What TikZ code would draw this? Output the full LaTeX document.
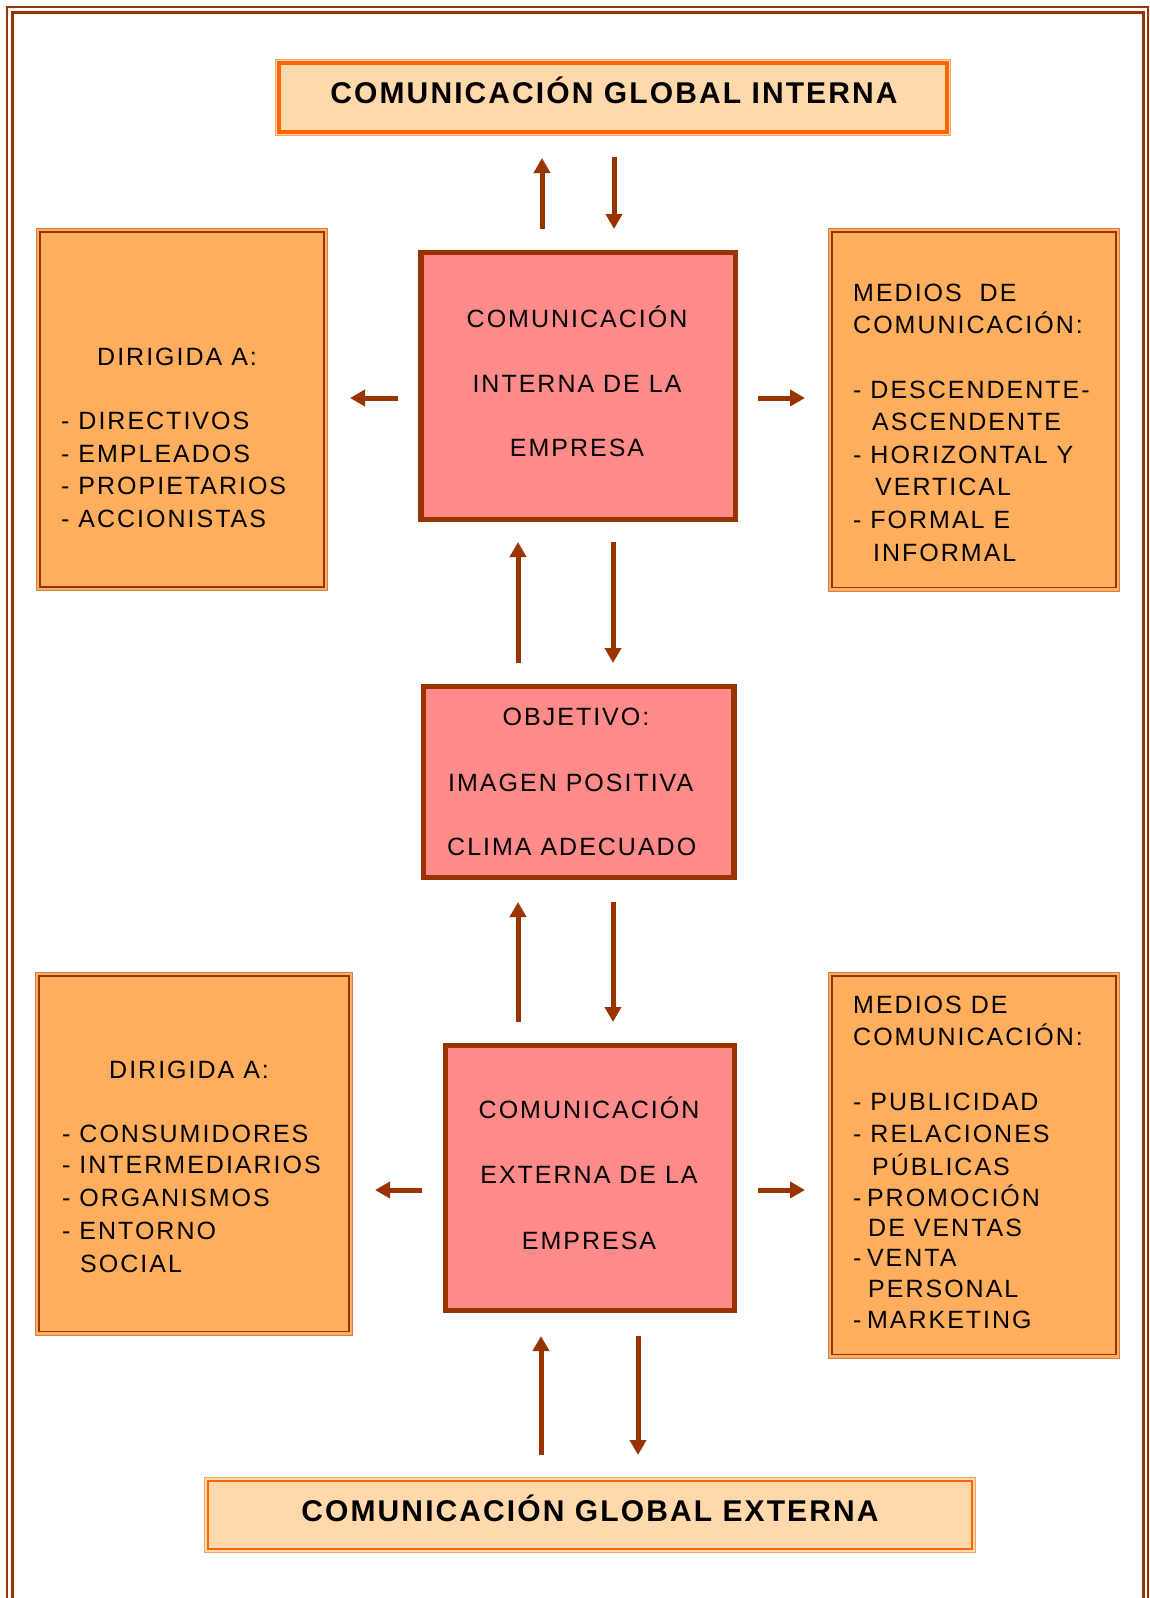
\documentclass[tikz,border=0pt]{standalone}
\usepackage{fontspec}
\setmainfont{Liberation Sans}
\newfontfamily\bodyfont[LetterSpace=8]{Liberation Sans}
\newfontfamily\headfont[LetterSpace=7]{Liberation Sans Bold}
\usetikzlibrary{arrows.meta}

\definecolor{rust}{RGB}{153,51,0}
\definecolor{ltrust}{RGB}{214,125,80}
\definecolor{orangefill}{RGB}{255,174,94}
\definecolor{pinkfill}{RGB}{255,138,138}
\definecolor{peachfill}{RGB}{255,216,172}
\definecolor{hotorange}{RGB}{255,102,0}
\definecolor{ltorange}{RGB}{255,160,100}

% inner border line of a box, inset by #2
\newcommand\innerline[3]{%
  \draw[#3] ([shift={(#2,-#2)}]#1.north west) rectangle ([shift={(-#2,#2)}]#1.south east);}

\tikzset{
  listbox/.style={rectangle, inner sep=0pt, fill=orangefill, draw=ltrust, line width=1pt},
  pinkbox/.style={rectangle, inner sep=0pt, fill=pinkfill, draw=rust, line width=5pt},
  titlebox/.style={rectangle, inner sep=0pt, fill=peachfill, draw=ltorange, line width=1.5pt},
  txt/.style={inner sep=0pt, anchor=base west, font=\bodyfont\fontsize{25}{29}\selectfont},
  ctxt/.style={txt, anchor=base},
  ttl/.style={inner sep=0pt, anchor=base, font=\headfont\fontsize{30}{34}\selectfont},
  arr/.style={draw=rust, line width=5pt, -{Triangle[width=16pt,length=15pt]}},
  frameline/.style={draw=rust, line cap=butt}
}

\begin{document}
\begin{tikzpicture}[x=1pt,y=-1pt]
\useasboundingbox (0,0) rectangle (1149,1598);

% page frame, open at the bottom
\draw[frameline, line width=2pt] (7,1598) -- (7,7) -- (1148,7) -- (1148,1598);
\draw[frameline, line width=3pt] (12.5,1598) -- (12.5,12.5) -- (1143.5,12.5) -- (1143.5,1598);

% title boxes
\node[titlebox, minimum width=675pt, minimum height=76pt] (gi) at (613,97.5) {};
\innerline{gi}{4.2pt}{hotorange, line width=3.5pt}
\node[titlebox, minimum width=771pt, minimum height=75pt] (ge) at (590,1515) {};
\innerline{ge}{4.2pt}{hotorange, line width=2pt}
\node[ttl] (gitext) at (614,103.5) {COMUNICACIÓN GLOBAL INTERNA};
\node[ttl] (getext) at (590,1521) {COMUNICACIÓN GLOBAL EXTERNA};

% central boxes
\node[pinkbox, minimum width=314.7pt, minimum height=266.7pt] (ci) at (578.2,385.8) {};
\innerline{ci}{4.4pt}{rust, line width=1.5pt}
\node[pinkbox, minimum width=311pt, minimum height=191pt] (obj) at (578.5,782) {};
\innerline{obj}{4.4pt}{rust, line width=1.5pt}
\node[pinkbox, minimum width=289.5pt, minimum height=265pt] (ce) at (589.8,1178) {};
\innerline{ce}{4.4pt}{rust, line width=1.5pt}

% side boxes
\node[listbox, minimum width=291pt, minimum height=362pt] (li) at (182,409.5) {};
\innerline{li}{4pt}{rust, line width=1.8pt}
\node[listbox, minimum width=291pt, minimum height=362.5pt] (ri) at (974,409.75) {};
\innerline{ri}{4pt}{rust, line width=1.8pt}
\node[listbox, minimum width=317pt, minimum height=362.5pt] (le) at (194,1153.75) {};
\innerline{le}{4pt}{rust, line width=1.8pt}
\node[listbox, minimum width=291pt, minimum height=385.5pt] (re) at (974,1165.25) {};
\innerline{re}{4pt}{rust, line width=1.8pt}

% texts of the central boxes
\node[ctxt] (ci1) at (577,327.3) {COMUNICACIÓN};
\node[ctxt] (ci2) at (577,392.3) {INTERNA DE LA};
\node[ctxt] (ci3) at (577,456.7) {EMPRESA};
\node[ctxt] (obj1) at (576,725.7) {OBJETIVO:};
\node[txt] (obj2) at (448,791) {IMAGEN POSITIVA};
\node[txt] (obj3) at (447,855.7) {CLIMA ADECUADO};
\node[ctxt] (ce1) at (589,1118.5) {COMUNICACIÓN};
\node[ctxt] (ce2) at (589,1183.5) {EXTERNA DE LA};
\node[ctxt] (ce3) at (589,1249.5) {EMPRESA};

% internal audience
\node[txt] (li1) at (97,365.6) {DIRIGIDA A:};
\node[txt] (li2) at (61,429.6) {- DIRECTIVOS};
\node[txt] (li3) at (61,462.6) {- EMPLEADOS};
\node[txt] (li4) at (61,494.6) {- PROPIETARIOS};
\node[txt] (li5) at (61,527.6) {- ACCIONISTAS};

% internal media
\node[txt] (ri1) at (853,301.7) {MEDIOS\ \ DE};
\node[txt] (ri2) at (853,333) {COMUNICACIÓN:};
\node[txt] (ri3) at (853,398) {- DESCENDENTE-};
\node[txt] (ri4) at (872,430.5) {ASCENDENTE};
\node[txt] (ri5) at (853,463) {- HORIZONTAL Y};
\node[txt] (ri6) at (875,495) {VERTICAL};
\node[txt] (ri7) at (853,528) {- FORMAL E};
\node[txt] (ri8) at (873,561) {INFORMAL};

% external audience
\node[txt] (le1) at (109,1078) {DIRIGIDA A:};
\node[txt] (le2) at (62,1142.7) {- CONSUMIDORES};
\node[txt] (le3) at (62,1173.3) {- INTERMEDIARIOS};
\node[txt] (le4) at (62,1206.7) {- ORGANISMOS};
\node[txt] (le5) at (62,1239.3) {- ENTORNO};
\node[txt] (le6) at (80,1272.7) {SOCIAL};

% external media
\node[txt] (re1) at (853,1013.3) {MEDIOS DE};
\node[txt] (re2) at (853,1045.7) {COMUNICACIÓN:};
\node[txt] (re3) at (853,1110) {- PUBLICIDAD};
\node[txt] (re4) at (853,1142.7) {- RELACIONES};
\node[txt] (re5) at (872,1175) {PÚBLICAS};
\node[txt] (re6) at (853,1206.7) {-\hspace{0.22em}PROMOCIÓN};
\node[txt] (re7) at (868,1236) {DE VENTAS};
\node[txt] (re8) at (853,1266.7) {-\hspace{0.22em}VENTA};
\node[txt] (re9) at (868,1297.3) {PERSONAL};
\node[txt] (re10) at (853,1328.3) {-\hspace{0.22em}MARKETING};

% arrow end points
\coordinate (a1s) at (542,229);  \coordinate (a1e) at (542,158);
\coordinate (a2s) at (614,157);  \coordinate (a2e) at (614,229);
\coordinate (a3s) at (398,398);  \coordinate (a3e) at (350,398);
\coordinate (a4s) at (758,398);  \coordinate (a4e) at (805,398);
\coordinate (a5s) at (518,663);  \coordinate (a5e) at (518,542);
\coordinate (a6s) at (613,542);  \coordinate (a6e) at (613,663);
\coordinate (a7s) at (518,1022); \coordinate (a7e) at (518,902);
\coordinate (a8s) at (613,902);  \coordinate (a8e) at (613,1022);
\coordinate (a9s) at (422,1190); \coordinate (a9e) at (375,1190);
\coordinate (a10s) at (758,1190); \coordinate (a10e) at (805,1190);
\coordinate (a11s) at (541,1455); \coordinate (a11e) at (541,1336);
\coordinate (a12s) at (638,1336); \coordinate (a12e) at (638,1455);

\foreach \i in {1,...,12} {\draw[arr] (a\i s) -- (a\i e);}
\end{tikzpicture}
\end{document}
